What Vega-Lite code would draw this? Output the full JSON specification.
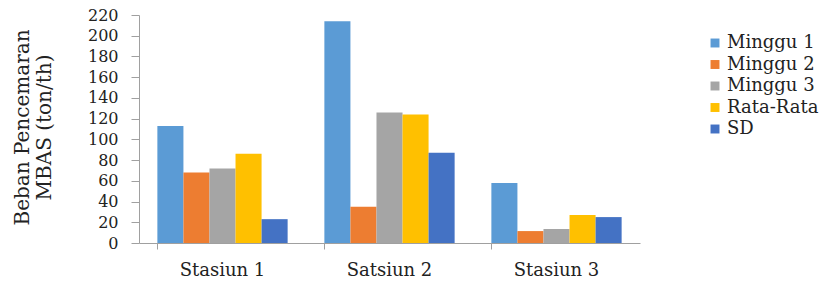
{
  "$schema": "https://vega.github.io/schema/vega-lite/v6.json",
  "width": 501,
  "height": 228,
  "autosize": {"type": "none"},
  "padding": {"left": 139, "top": 15, "right": 182, "bottom": 42},
  "background": "white",
  "config": {
    "view": {"stroke": null},
    "font": "DejaVu Serif"
  },
  "data": {
    "values": [
      {"stasiun": "Stasiun 1", "seri": "Minggu 1", "nilai": 113},
      {"stasiun": "Stasiun 1", "seri": "Minggu 2", "nilai": 68},
      {"stasiun": "Stasiun 1", "seri": "Minggu 3", "nilai": 72},
      {"stasiun": "Stasiun 1", "seri": "Rata-Rata", "nilai": 86},
      {"stasiun": "Stasiun 1", "seri": "SD", "nilai": 23},
      {"stasiun": "Satsiun 2", "seri": "Minggu 1", "nilai": 214},
      {"stasiun": "Satsiun 2", "seri": "Minggu 2", "nilai": 35},
      {"stasiun": "Satsiun 2", "seri": "Minggu 3", "nilai": 126},
      {"stasiun": "Satsiun 2", "seri": "Rata-Rata", "nilai": 124},
      {"stasiun": "Satsiun 2", "seri": "SD", "nilai": 87},
      {"stasiun": "Stasiun 3", "seri": "Minggu 1", "nilai": 58},
      {"stasiun": "Stasiun 3", "seri": "Minggu 2", "nilai": 11.5},
      {"stasiun": "Stasiun 3", "seri": "Minggu 3", "nilai": 13.5},
      {"stasiun": "Stasiun 3", "seri": "Rata-Rata", "nilai": 27},
      {"stasiun": "Stasiun 3", "seri": "SD", "nilai": 25}
    ]
  },
  "mark": {"type": "bar"},
  "encoding": {
    "x": {
      "field": "stasiun",
      "type": "nominal",
      "sort": null,
      "scale": {"paddingInner": 0.22, "paddingOuter": 0.11},
      "axis": {
        "title": null,
        "labelAngle": 0,
        "labelFont": "DejaVu Serif",
        "labelFontSize": 18,
        "labelColor": "#222",
        "labelPadding": 12,
        "domainColor": "#a0a0a0",
        "tickColor": "#a0a0a0",
        "tickSize": 6,
        "bandPosition": 0
      }
    },
    "xOffset": {"field": "seri", "type": "nominal", "sort": null},
    "y": {
      "field": "nilai",
      "type": "quantitative",
      "scale": {"domain": [0, 220], "nice": false},
      "axis": {
        "values": [0, 20, 40, 60, 80, 100, 120, 140, 160, 180, 200, 220],
        "grid": false,
        "title": ["Beban Pencemaran", "MBAS (ton/th)"],
        "titleFont": "DejaVu Serif",
        "titleFontSize": 20,
        "titleLineHeight": 22,
        "titleFontWeight": "normal",
        "titleColor": "#222",
        "titleX": -117,
        "titleY": 112,
        "titleAngle": -90,
        "titleAlign": "center",
        "titleBaseline": "middle",
        "labelFont": "DejaVu Serif",
        "labelFontSize": 16,
        "labelColor": "#222",
        "labelPadding": 13,
        "domainColor": "#a0a0a0",
        "tickColor": "#a0a0a0",
        "tickSize": 8
      }
    },
    "color": {
      "field": "seri",
      "type": "nominal",
      "sort": null,
      "scale": {
        "domain": ["Minggu 1", "Minggu 2", "Minggu 3", "Rata-Rata", "SD"],
        "range": ["#5B9BD5", "#ED7D31", "#A5A5A5", "#FFC000", "#4472C4"]
      },
      "legend": {
        "title": null,
        "orient": "none",
        "legendX": 567,
        "legendY": 19,
        "symbolType": "square",
        "symbolSize": 80,
        "symbolStrokeWidth": 0,
        "labelFont": "DejaVu Serif",
        "labelFontSize": 18,
        "labelColor": "#222",
        "rowPadding": 3.5,
        "labelOffset": 3
      }
    }
  }
}
